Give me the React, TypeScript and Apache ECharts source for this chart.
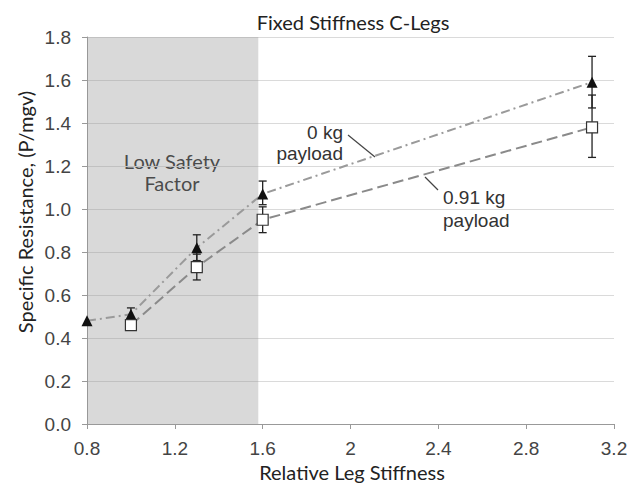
import React, { useEffect, useRef } from "react";
import * as echarts from "echarts";

const xTicks = [0.8, 1.2, 1.6, 2, 2.4, 2.8, 3.2];
const yTicks = [0, 0.2, 0.4, 0.6, 0.8, 1.0, 1.2, 1.4, 1.6, 1.8];

const stiffness0 = [0.8, 1.0, 1.3, 1.6, 3.1];
const resist0 = [0.48, 0.51, 0.82, 1.07, 1.59];
const err0Low = [0.48, 0.48, 0.76, 1.02, 1.47];
const err0High = [0.48, 0.54, 0.88, 1.13, 1.71];

const stiffness91 = [1.0, 1.3, 1.6, 3.1];
const resist91 = [0.46, 0.73, 0.95, 1.38];
const err91Low = [0.44, 0.67, 0.89, 1.24];
const err91High = [0.49, 0.79, 1.01, 1.53];

const shadeFrom = 0.8;
const shadeTo = 1.58;

const FONT_LABEL = "Lato";
const FONT_NUM = "Liberation Sans";

export default function App() {
  const ref = useRef<HTMLDivElement>(null);
  useEffect(() => {
    document.body.style.margin = "0";
    const chart = echarts.init(ref.current!, null, { renderer: "svg" });

    const errData = [
      ...stiffness0.map((x, i) => [x, err0Low[i], err0High[i]]),
      ...stiffness91.map((x, i) => [x, err91Low[i], err91High[i]]),
    ];

    const renderErr = (params: any, api: any) => {
      const x = api.value(0);
      const lo = api.coord([x, api.value(1)]);
      const hi = api.coord([x, api.value(2)]);
      if (Math.abs(lo[1] - hi[1]) < 1) return { type: "group", children: [] };
      const w = 4;
      const style = { stroke: "#222", lineWidth: 1.3 };
      return {
        type: "group",
        children: [
          { type: "line", shape: { x1: lo[0], y1: lo[1], x2: hi[0], y2: hi[1] }, style },
          { type: "line", shape: { x1: lo[0] - w, y1: lo[1], x2: lo[0] + w, y2: lo[1] }, style },
          { type: "line", shape: { x1: hi[0] - w, y1: hi[1], x2: hi[0] + w, y2: hi[1] }, style },
        ],
      };
    };

    const textStyleLbl = { fill: "#222", font: `20px ${FONT_LABEL}` };
    const textStyleNum = { fill: "#333", font: `19px ${FONT_NUM}` };

    chart.setOption({
      animation: false,
      backgroundColor: "#fff",
      grid: { left: 87, right: 22, top: 37, bottom: 61, containLabel: false },
      xAxis: {
        type: "value",
        min: 0.8,
        max: 3.2,
        interval: 0.4,
        axisLine: { show: true, lineStyle: { color: "#999", width: 1 } },
        axisTick: { show: true, length: 5, lineStyle: { color: "#999" } },
        splitLine: { show: false },
        axisLabel: {
          color: "#444",
          fontFamily: FONT_NUM,
          fontSize: 19,
          margin: 15,
          formatter: (v: number) => String(+v.toFixed(1)),
        },
      },
      yAxis: {
        type: "value",
        min: 0,
        max: 1.8,
        interval: 0.2,
        axisLine: { show: true, lineStyle: { color: "#999", width: 1 } },
        axisTick: { show: true, length: 5, lineStyle: { color: "#999" } },
        splitLine: { show: true, lineStyle: { color: "#dadada", width: 1 } },
        axisLabel: {
          color: "#444",
          fontFamily: FONT_NUM,
          fontSize: 19,
          margin: 16,
          formatter: (v: number) => v.toFixed(1),
        },
      },
      series: [
        {
          type: "line",
          name: "shade",
          data: [],
          silent: true,
          z: 0,
          markArea: {
            silent: true,
            itemStyle: { color: "rgba(150,150,150,0.36)" },
            data: [[{ xAxis: shadeFrom, yAxis: 0 }, { xAxis: shadeTo, yAxis: 1.8 }]],
          },
        },
        {
          type: "custom",
          name: "error",
          renderItem: renderErr,
          data: errData,
          z: 2,
          silent: true,
        },
        {
          type: "line",
          name: "0 kg payload",
          data: stiffness0.map((x, i) => [x, resist0[i]]),
          symbol: "triangle",
          symbolSize: 11,
          itemStyle: { color: "#111" },
          lineStyle: { color: "#9a9a9a", width: 2, type: [9, 4, 2, 4] },
          z: 3,
        },
        {
          type: "line",
          name: "0.91 kg payload",
          data: stiffness91.map((x, i) => [x, resist91[i]]),
          symbol: "rect",
          symbolSize: 11,
          showAllSymbol: true,
          itemStyle: { color: "#fff", borderColor: "#333", borderWidth: 1.2 },
          lineStyle: { color: "#8a8a8a", width: 2, type: [11, 5] },
          z: 4,
        },
      ],
      graphic: [
        {
          type: "text",
          x: 353,
          y: 22,
          style: { ...textStyleLbl, text: "Fixed Stiffness C-Legs", align: "center", verticalAlign: "middle" },
        },
        {
          type: "text",
          x: 352,
          y: 472,
          style: { ...textStyleLbl, text: "Relative Leg Stiffness", align: "center", verticalAlign: "middle" },
        },
        {
          type: "text",
          x: 25,
          y: 212,
          rotation: Math.PI / 2,
          style: { ...textStyleLbl, text: "Specific Resistance, (P/mgv)", align: "center", verticalAlign: "middle" },
        },
        {
          type: "text",
          x: 172,
          y: 172,
          style: {
            ...textStyleLbl,
            text: "Low Safety\nFactor",
            align: "center",
            verticalAlign: "middle",
            lineHeight: 22,
          },
        },
        {
          type: "text",
          x: 343,
          y: 143,
          style: { ...textStyleNum, text: "0 kg\npayload", align: "right", verticalAlign: "middle", lineHeight: 21 },
        },
        {
          type: "text",
          x: 443,
          y: 209,
          style: { ...textStyleNum, text: "0.91 kg\npayload", align: "left", verticalAlign: "middle", lineHeight: 23 },
        },
        {
          type: "line",
          shape: { x1: 348, y1: 135, x2: 375, y2: 157 },
          style: { stroke: "#444", lineWidth: 1.2 },
        },
        {
          type: "line",
          shape: { x1: 425, y1: 177, x2: 438, y2: 190 },
          style: { stroke: "#444", lineWidth: 1.2 },
        },
      ],
    });
    return () => chart.dispose();
  }, []);
  return <div ref={ref} style={{ width: 636, height: 485 }} />;
}
